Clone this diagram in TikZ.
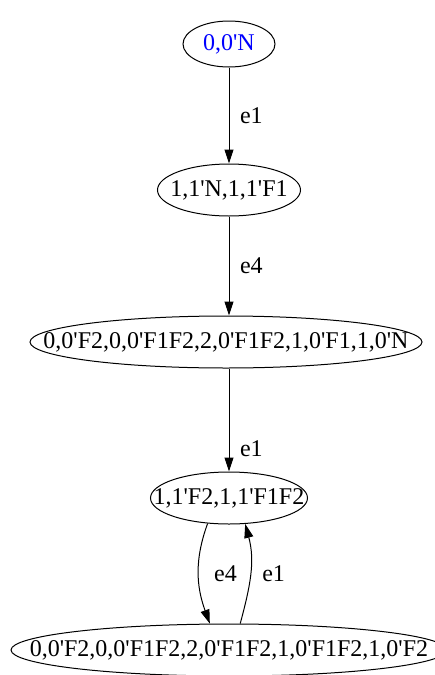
\documentclass[tikz,border=0pt]{standalone}
\usepackage{fontspec}
\setmainfont{Liberation Serif}
\usepackage{tikz}
\usetikzlibrary{
  shapes.geometric,
  arrows.meta,
  positioning
}
\definecolor{startcolor}{RGB}{0, 0, 255}
\definecolor{edgecolor}{RGB}{0, 0, 0}
\definecolor{labelcolor}{RGB}{0, 0, 0}
\newcommand{\statename}[1]{\makebox[0pt]{#1}}
\newcommand{\qt}{\textquotesingle}
\tikzset{
statetext/.style={
  font=\fontsize{24}{28}\selectfont,
  text=labelcolor
},
state/.style={
  ellipse,
  draw,
  line width=1pt,
  inner sep=0pt,
  minimum height=52pt,
  statetext
},
edgelabel/.style={
  font=\fontsize{24}{28}\selectfont,
  text=labelcolor,
  inner sep=3pt
},
arrow/.style={
  -{Triangle[length=14pt,width=9pt]},
  line width=1pt,
  draw=edgecolor
}
}

\begin{document}
\begin{tikzpicture}[x=1pt,y=1pt]
  \useasboundingbox (0,0) rectangle (435,-675);

  % states
  \node[state, minimum width=92pt, minimum height=46pt, text=startcolor] (s0) at (229,-44) {\statename{0,0\qt N}};
  \node[state, minimum width=143pt] (s1) at (229,-190) {\statename{1,1\qt N,1,1\qt F1}};
  \node[state, minimum width=392pt] (s2) at (226,-342) {\statename{0,0\qt F2,0,0\qt F1F2,2,0\qt F1F2,1,0\qt F1,1,0\qt N}};
  \node[state, minimum width=157pt] (s3) at (229,-498) {\statename{1,1\qt F2,1,1\qt F1F2}};
  \node[state, minimum width=436pt] (s4) at (229,-650) {\statename{0,0\qt F2,0,0\qt F1F2,2,0\qt F1F2,1,0\qt F1F2,1,0\qt F2}};

  % transitions
  \draw[arrow] (s0) -- node[edgelabel, right=7.5pt] {e1} (s1);
  \draw[arrow] (s1) -- node[edgelabel, right=7.5pt] {e4} (s1 |- s2.north);
  \draw[arrow] (s1 |- s2.south) -- node[edgelabel, right=7.5pt, pos=0.78] {e1} (s3);
  \draw[arrow] (s3.230) to[out=250, in=110] node[edgelabel, right=12pt] {e4} (s4.126);
  \draw[arrow] (s4.67) to[out=75, in=285] node[edgelabel, right=8.5pt] {e1} (s3.302);
\end{tikzpicture}
\end{document}
